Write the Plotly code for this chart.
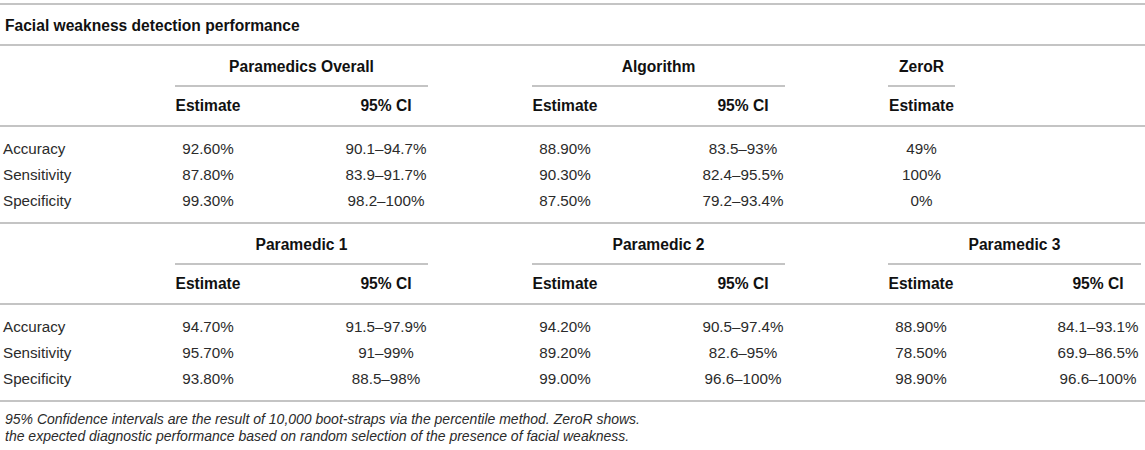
import plotly.graph_objects as go

# ---- table contents ----
title = "Facial weakness detection performance"
metrics = ["Accuracy", "Sensitivity", "Specificity"]

overall_est = ["92.60%", "87.80%", "99.30%"]
overall_ci = ["90.1–94.7%", "83.9–91.7%", "98.2–100%"]
algorithm_est = ["88.90%", "90.30%", "87.50%"]
algorithm_ci = ["83.5–93%", "82.4–95.5%", "79.2–93.4%"]
zeror_est = ["49%", "100%", "0%"]

p1_est = ["94.70%", "95.70%", "93.80%"]
p1_ci = ["91.5–97.9%", "91–99%", "88.5–98%"]
p2_est = ["94.20%", "89.20%", "99.00%"]
p2_ci = ["90.5–97.4%", "82.6–95%", "96.6–100%"]
p3_est = ["88.90%", "78.50%", "98.90%"]
p3_ci = ["84.1–93.1%", "69.9–86.5%", "96.6–100%"]

sub_headers = ["Estimate", "95% CI"]
footnotes = [
    "95% Confidence intervals are the result of 10,000 boot-straps via the percentile method. ZeroR shows.",
    "the expected diagnostic performance based on random selection of the presence of facial weakness.",
]

blocks = [
    [("Paramedics Overall", [overall_est, overall_ci]),
     ("Algorithm", [algorithm_est, algorithm_ci]),
     ("ZeroR", [zeror_est])],
    [("Paramedic 1", [p1_est, p1_ci]),
     ("Paramedic 2", [p2_est, p2_ci]),
     ("Paramedic 3", [p3_est, p3_ci])],
]

# ---- styling / layout (pixel units) ----
W, H = 1145, 450
FONT = "Liberation Sans, Arial, sans-serif"
TXT = "#2b2b2b"
HEAD = "#111111"
LINE = "#b0b0b0"
SIZE = 15.2
BOLD_SIZE = 15.6

group_spans = [(175, 428), (532, 785), (888, 1141)]
col_x = [[208, 386], [565, 743], [921, 1098]]
block_tops = [45, 223]

fig = go.Figure()
shapes = []


def hline(x0, x1, y, width=1.5):
    shapes.append(dict(type="line", xref="x", yref="y", x0=x0, x1=x1, y0=y, y1=y,
                       line=dict(color=LINE, width=width)))


def add_text(xs, ys, texts, pos="middle center", bold=False, color=TXT):
    fig.add_trace(go.Scatter(
        x=xs, y=ys, text=texts, mode="text", textposition=pos,
        textfont=dict(family=FONT, size=BOLD_SIZE if bold else SIZE, color=color,
                      weight="bold" if bold else "normal"),
        hoverinfo="skip", showlegend=False,
    ))


hline(0, W, 4)
for top, groups in zip(block_tops, blocks):
    hline(0, W, top)
    row_y = [top + 105, top + 131, top + 157]
    add_text([3] * len(metrics), row_y, metrics, pos="middle right")
    for (name, cols), (s0, s1), xs in zip(groups, group_spans, col_x):
        if len(cols) == 1:
            s1 = s0 + 67
            xs = [(s0 + s1) / 2]
        add_text([(s0 + s1) / 2], [top + 23], [name], bold=True, color=HEAD)
        hline(s0, s1, top + 41)
        for x, vals, head in zip(xs, cols, sub_headers):
            add_text([x], [top + 62], [head], bold=True, color=HEAD)
            add_text([x] * len(vals), row_y, vals)
    hline(0, W, top + 81)
hline(0, W, 401)

annotations = [
    dict(x=3, y=25, xref="x", yref="y", text="<b>" + title + "</b>", showarrow=False,
         xanchor="left", yanchor="middle", font=dict(family=FONT, size=BOLD_SIZE, color=HEAD)),
]
for i, line in enumerate(footnotes):
    annotations.append(dict(x=3, y=419 + 17 * i, xref="x", yref="y", text="<i>" + line + "</i>",
                            showarrow=False, xanchor="left", yanchor="middle",
                            font=dict(family=FONT, size=14, color=TXT)))

fig.update_layout(
    width=W, height=H,
    margin=dict(l=0, r=0, t=0, b=0),
    paper_bgcolor="white", plot_bgcolor="white",
    xaxis=dict(range=[0, W], visible=False, fixedrange=True),
    yaxis=dict(range=[H, 0], visible=False, fixedrange=True),
    shapes=shapes, annotations=annotations,
)

fig.write_html("out.html", config={"displayModeBar": False},
               post_script="document.body.style.margin='0px';document.body.style.overflow='hidden';")
